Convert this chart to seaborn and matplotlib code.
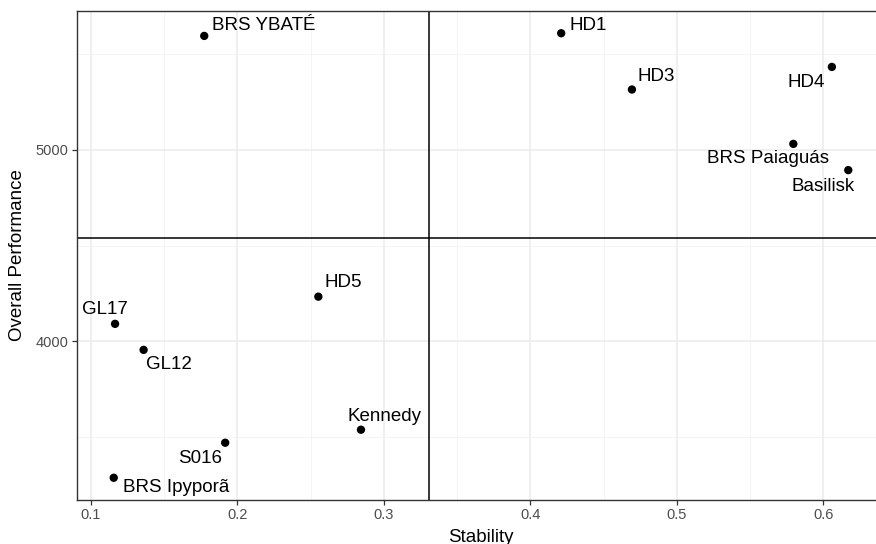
import numpy as np
import pandas as pd
import matplotlib
matplotlib.use("Agg")
import matplotlib.pyplot as plt
import seaborn as sns

genotypes = ["BRS YBATÉ", "HD1", "HD3", "HD4", "BRS Paiaguás", "Basilisk",
             "HD5", "GL17", "GL12", "Kennedy", "S016", "BRS Ipyporã"]
stability = [0.1773, 0.4210, 0.4693, 0.6058, 0.5795, 0.6170,
             0.2552, 0.1164, 0.1359, 0.2843, 0.1916, 0.1155]
performance = [5595, 5609, 5315, 5433, 5031, 4894,
               4233, 4091, 3955, 3538, 3470, 3287]
x_ticks = [0.1, 0.2, 0.3, 0.4, 0.5, 0.6]
y_ticks = [4000, 5000]

# label offsets in pixels (dx, dy, ha)
label_style = {
    "BRS YBATÉ": (8, 10, "left"),
    "HD1": (8, 8, "left"),
    "HD3": (6, 13, "left"),
    "HD4": (-7, -16, "right"),
    "BRS Paiaguás": (-25, -15, "center"),
    "Basilisk": (-25, -16, "center"),
    "HD5": (6, 14, "left"),
    "GL17": (-10, 14, "center"),
    "GL12": (2, -15, "left"),
    "Kennedy": (24, 13, "center"),
    "S016": (-25, -16, "center"),
    "BRS Ipyporã": (9, -10, "left"),
}

df = pd.DataFrame({"Genotype": genotypes, "Stability": stability,
                   "Overall Performance": performance})

sns.set_style("white")
plt.rcParams["font.family"] = ["Liberation Sans", "DejaVu Sans"]

fig = plt.figure(figsize=(8.76, 5.44), dpi=100)
ax = fig.add_axes([77 / 876, 44 / 544, (885 - 77) / 876, (500 - 11) / 544])

xr = max(stability) - min(stability)
yr = max(performance) - min(performance)
ax.set_xlim(min(stability) - 0.05 * xr, max(stability) + 0.05 * xr)
ax.set_ylim(min(performance) - 0.05 * yr, max(performance) + 0.05 * yr)

# grid
ax.set_xticks(x_ticks)
ax.set_yticks(y_ticks)
ax.set_xticks([0.15, 0.25, 0.35, 0.45, 0.55], minor=True)
ax.set_yticks([3500, 4500, 5500], minor=True)
ax.grid(True, which="major", color="#EBEBEB", linewidth=1.1, zorder=0)
ax.grid(True, which="minor", color="#F2F2F2", linewidth=0.6, zorder=0)
ax.set_axisbelow(True)

ax.axvline(np.mean(stability), color="black", linewidth=1.1, zorder=1)
ax.axhline(np.mean(performance), color="black", linewidth=1.1, zorder=1)

sns.scatterplot(data=df, x="Stability", y="Overall Performance", ax=ax,
                color="black", s=36, edgecolor="none", zorder=3)

for g, xv, yv in zip(genotypes, stability, performance):
    dx, dy, ha = label_style[g]
    ax.annotate(g, (xv, yv), xytext=(dx, dy), textcoords="offset pixels",
                ha=ha, va="center", fontsize=13.5, color="black", zorder=4)

for s in ax.spines.values():
    s.set_color("#333333")
    s.set_linewidth(1.0)

ax.tick_params(axis="both", which="major", direction="out", length=3.5,
               width=0.9, color="#333333", labelcolor="#4D4D4D",
               labelsize=10.5, pad=2.5, bottom=True, left=True)
ax.tick_params(axis="both", which="minor", length=0)
ax.set_xticklabels([f"{t:g}" for t in x_ticks])
ax.set_yticklabels([str(t) for t in y_ticks])

ax.set_xlabel("Stability", fontsize=13.5, color="black", labelpad=4.5)
ax.set_ylabel("Overall Performance", fontsize=13.5, color="black", labelpad=7)

fig.savefig("out.png", dpi=100)
